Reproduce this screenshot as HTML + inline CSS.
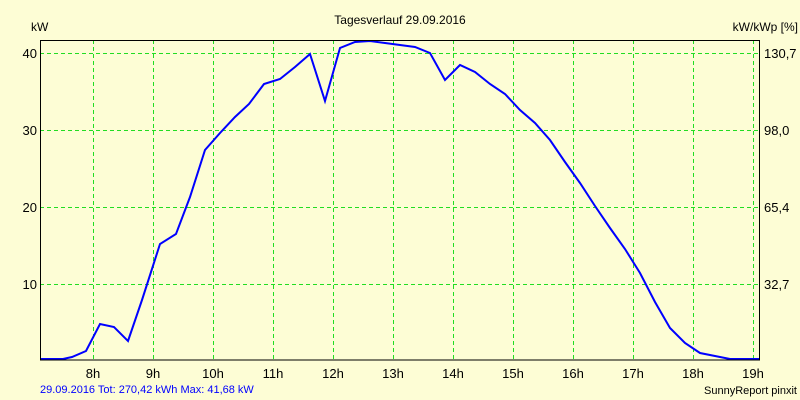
<!DOCTYPE html>
<html><head><style>
body{margin:0;background:#ffffd6;}
svg{display:block;font-family:"Liberation Sans",sans-serif;}
</style></head><body>
<svg width="800" height="400" viewBox="0 0 800 400">
<rect width="800" height="400" fill="#fdfdd5"/>
<g stroke="#22dd22" stroke-width="1" stroke-dasharray="4,3">
<line x1="93.5" y1="40" x2="93.5" y2="360"/><line x1="153.5" y1="40" x2="153.5" y2="360"/>
<line x1="213.5" y1="40" x2="213.5" y2="360"/><line x1="273.5" y1="40" x2="273.5" y2="360"/>
<line x1="333.5" y1="40" x2="333.5" y2="360"/><line x1="393.5" y1="40" x2="393.5" y2="360"/>
<line x1="453.5" y1="40" x2="453.5" y2="360"/><line x1="513.5" y1="40" x2="513.5" y2="360"/>
<line x1="573.5" y1="40" x2="573.5" y2="360"/><line x1="633.5" y1="40" x2="633.5" y2="360"/>
<line x1="693.5" y1="40" x2="693.5" y2="360"/><line x1="753.5" y1="40" x2="753.5" y2="360"/>
<line x1="40" y1="53.5" x2="760" y2="53.5"/><line x1="40" y1="130.5" x2="760" y2="130.5"/>
<line x1="40" y1="207.5" x2="760" y2="207.5"/><line x1="40" y1="284.5" x2="760" y2="284.5"/>
</g>
<polyline fill="none" stroke="#0000ff" stroke-width="2" points="40,359 63,359 72,357 86,351 100,324 114,327 128,341 142,300 160,244 176,234 190,197 205,150 220,133 235,117 249,104 264,84 280,79 295,67 310,54 325,101 340,48 355,42 370,41 385,43 400,45 415,47 430,53 445,80 460,65 475,72 490,84 505,94 520,110 535,123 550,140 565,162 580,183 595,206 610,228 625,249 640,273 655,302 670,328 685,343 700,353 715,356 730,359 760,359"/>
<rect x="40.5" y="40.5" width="719" height="319.5" fill="none" stroke="#000" stroke-width="1"/>
<g font-size="13" fill="#000">
<text x="400" y="24" text-anchor="middle" font-size="12">Tagesverlauf 29.09.2016</text>
<text x="31" y="31" font-size="12">kW</text>
<text x="798" y="31" font-size="12" text-anchor="end">kW/kWp [%]</text>
<g text-anchor="end"><text x="37" y="58">40</text><text x="37" y="135">30</text><text x="37" y="212">20</text><text x="37" y="289">10</text></g>
<g><text x="764" y="58">130,7</text><text x="764" y="135">98,0</text><text x="764" y="212">65,4</text><text x="764" y="289">32,7</text></g>
<g text-anchor="middle"><text x="93" y="378">8h</text><text x="153" y="378">9h</text><text x="213" y="378">10h</text><text x="273" y="378">11h</text><text x="333" y="378">12h</text><text x="393" y="378">13h</text><text x="453" y="378">14h</text><text x="513" y="378">15h</text><text x="573" y="378">16h</text><text x="633" y="378">17h</text><text x="693" y="378">18h</text><text x="753" y="378">19h</text></g>
<text x="40" y="393" font-size="11" fill="#0000ff">29.09.2016 Tot: 270,42 kWh Max: 41,68 kW</text>
<text x="797" y="394" font-size="11" text-anchor="end">SunnyReport pinxit</text>
</g>
</svg>
</body></html>
